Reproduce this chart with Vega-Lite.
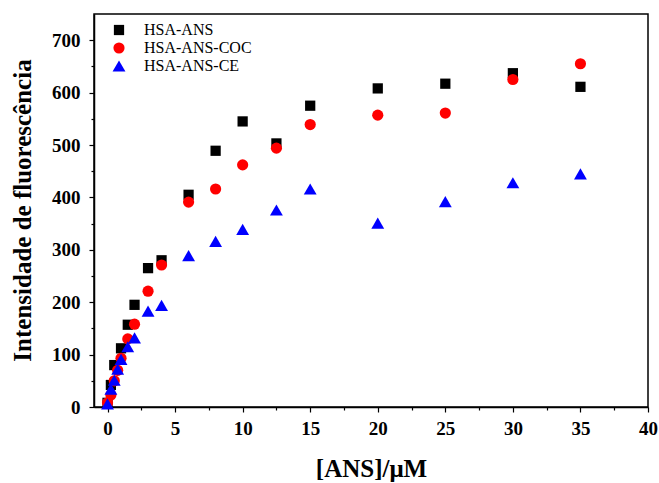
{
  "$schema": "https://vega.github.io/schema/vega-lite/v6.json",
  "width": 554,
  "height": 393,
  "autosize": {"type": "none"},
  "padding": {"left": 94, "top": 14, "right": 11, "bottom": 76},
  "background": "white",
  "config": {
    "view": {"stroke": "black", "strokeWidth": 1.5},
    "font": "Liberation Serif"
  },
  "data": {
    "values": [
      {"c": 0, "f": 8, "s": "HSA-ANS"},
      {"c": 0.25, "f": 42, "s": "HSA-ANS"},
      {"c": 0.5, "f": 80, "s": "HSA-ANS"},
      {"c": 1, "f": 112, "s": "HSA-ANS"},
      {"c": 1.5, "f": 157, "s": "HSA-ANS"},
      {"c": 2, "f": 195, "s": "HSA-ANS"},
      {"c": 3, "f": 265, "s": "HSA-ANS"},
      {"c": 4, "f": 280, "s": "HSA-ANS"},
      {"c": 6, "f": 405, "s": "HSA-ANS"},
      {"c": 8, "f": 489, "s": "HSA-ANS"},
      {"c": 10, "f": 545, "s": "HSA-ANS"},
      {"c": 12.5, "f": 503, "s": "HSA-ANS"},
      {"c": 15, "f": 575, "s": "HSA-ANS"},
      {"c": 20, "f": 608, "s": "HSA-ANS"},
      {"c": 25, "f": 617, "s": "HSA-ANS"},
      {"c": 30, "f": 637, "s": "HSA-ANS"},
      {"c": 35, "f": 611, "s": "HSA-ANS"},
      {"c": 0, "f": 8, "s": "HSA-ANS-COC"},
      {"c": 0.25, "f": 23, "s": "HSA-ANS-COC"},
      {"c": 0.5, "f": 50, "s": "HSA-ANS-COC"},
      {"c": 0.75, "f": 70, "s": "HSA-ANS-COC"},
      {"c": 1, "f": 93, "s": "HSA-ANS-COC"},
      {"c": 1.5, "f": 130, "s": "HSA-ANS-COC"},
      {"c": 2, "f": 158, "s": "HSA-ANS-COC"},
      {"c": 3, "f": 221, "s": "HSA-ANS-COC"},
      {"c": 4, "f": 271, "s": "HSA-ANS-COC"},
      {"c": 6, "f": 391, "s": "HSA-ANS-COC"},
      {"c": 8, "f": 416, "s": "HSA-ANS-COC"},
      {"c": 10, "f": 462, "s": "HSA-ANS-COC"},
      {"c": 12.5, "f": 494, "s": "HSA-ANS-COC"},
      {"c": 15, "f": 539, "s": "HSA-ANS-COC"},
      {"c": 20, "f": 557, "s": "HSA-ANS-COC"},
      {"c": 25, "f": 561, "s": "HSA-ANS-COC"},
      {"c": 30, "f": 625, "s": "HSA-ANS-COC"},
      {"c": 35, "f": 655, "s": "HSA-ANS-COC"},
      {"c": 0, "f": 6, "s": "HSA-ANS-CE"},
      {"c": 0.25, "f": 34, "s": "HSA-ANS-CE"},
      {"c": 0.5, "f": 51, "s": "HSA-ANS-CE"},
      {"c": 0.75, "f": 72, "s": "HSA-ANS-CE"},
      {"c": 1, "f": 91, "s": "HSA-ANS-CE"},
      {"c": 1.5, "f": 115, "s": "HSA-ANS-CE"},
      {"c": 2, "f": 132, "s": "HSA-ANS-CE"},
      {"c": 3, "f": 183, "s": "HSA-ANS-CE"},
      {"c": 4, "f": 194, "s": "HSA-ANS-CE"},
      {"c": 6, "f": 289, "s": "HSA-ANS-CE"},
      {"c": 8, "f": 316, "s": "HSA-ANS-CE"},
      {"c": 10, "f": 339, "s": "HSA-ANS-CE"},
      {"c": 12.5, "f": 376, "s": "HSA-ANS-CE"},
      {"c": 15, "f": 416, "s": "HSA-ANS-CE"},
      {"c": 20, "f": 351, "s": "HSA-ANS-CE"},
      {"c": 25, "f": 392, "s": "HSA-ANS-CE"},
      {"c": 30, "f": 428, "s": "HSA-ANS-CE"},
      {"c": 35, "f": 445, "s": "HSA-ANS-CE"}
    ]
  },
  "layer": [
    {
      "mark": {"type": "point", "filled": true, "opacity": 1, "size": 0},
      "encoding": {
        "x": {
          "field": "c", "type": "quantitative",
          "scale": {"domain": [-1, 40], "nice": false, "zero": false},
          "axis": {
            "orient": "bottom", "values": [2.5, 7.5, 12.5, 17.5, 22.5, 27.5, 32.5, 37.5],
            "labels": false, "domain": false, "grid": false, "title": null,
            "tickSize": 3, "tickColor": "black", "tickWidth": 1.2
          }
        },
        "y": {
          "field": "f", "type": "quantitative",
          "scale": {"domain": [0, 750], "nice": false},
          "axis": {
            "orient": "left", "values": [50, 150, 250, 350, 450, 550, 650],
            "labels": false, "domain": false, "grid": false, "title": null,
            "tickSize": 3, "tickColor": "black", "tickWidth": 1.2
          }
        }
      }
    },
    {
      "mark": {"type": "point", "filled": true, "opacity": 1},
      "encoding": {
        "x": {
          "field": "c", "type": "quantitative",
          "scale": {"domain": [-1, 40], "nice": false, "zero": false},
          "axis": {
            "orient": "bottom", "values": [0, 5, 10, 15, 20, 25, 30, 35, 40],
            "title": "[ANS]/\u03bcM", "grid": false,
            "domainColor": "black", "domainWidth": 1.5,
            "tickColor": "black", "tickSize": 5, "tickWidth": 1.2,
            "labelFont": "Liberation Serif", "labelFontSize": 19, "labelFontWeight": "bold",
            "labelColor": "black", "labelPadding": 7, "labelFlush": false,
            "titleFont": "Liberation Serif", "titleFontSize": 25, "titleFontWeight": "bold",
            "titleColor": "black", "titleBaseline": "middle", "titleY": 61
          }
        },
        "y": {
          "field": "f", "type": "quantitative",
          "scale": {"domain": [0, 750], "nice": false},
          "axis": {
            "orient": "left", "values": [0, 100, 200, 300, 400, 500, 600, 700],
            "title": "Intensidade de fluoresc\u00eancia", "grid": false,
            "domainColor": "black", "domainWidth": 1.5,
            "tickColor": "black", "tickSize": 5, "tickWidth": 1.2,
            "labelFont": "Liberation Serif", "labelFontSize": 19, "labelFontWeight": "bold",
            "labelColor": "black", "labelPadding": 9, "labelFlush": false,
            "titleFont": "Liberation Serif", "titleFontSize": 25, "titleFontWeight": "bold",
            "titleColor": "black", "titleAngle": -90, "titleBaseline": "middle",
            "titleAlign": "center", "titleX": -72, "titleY": 196
          }
        },
        "size": {
          "field": "s", "type": "nominal",
          "scale": {"type": "ordinal", "domain": ["HSA-ANS", "HSA-ANS-COC", "HSA-ANS-CE"], "range": [105, 125, 165]}
        },
        "shape": {
          "field": "s", "type": "nominal",
          "scale": {"domain": ["HSA-ANS", "HSA-ANS-COC", "HSA-ANS-CE"], "range": ["square", "circle", "triangle-up"]}
        },
        "color": {
          "field": "s", "type": "nominal",
          "scale": {"domain": ["HSA-ANS", "HSA-ANS-COC", "HSA-ANS-CE"], "range": ["#000000", "#ff0000", "#0000ff"]},
          "legend": {
            "title": null, "orient": "none", "legendX": 17, "legendY": 8,
            "symbolStrokeWidth": 0, "symbolOpacity": 1,
            "labelFont": "Liberation Serif", "labelFontSize": 16, "labelColor": "black",
            "labelOffset": 17, "rowPadding": 2, "padding": 0
          }
        }
      }
    }
  ],
  "resolve": {"axis": {"x": "independent", "y": "independent"}}
}
